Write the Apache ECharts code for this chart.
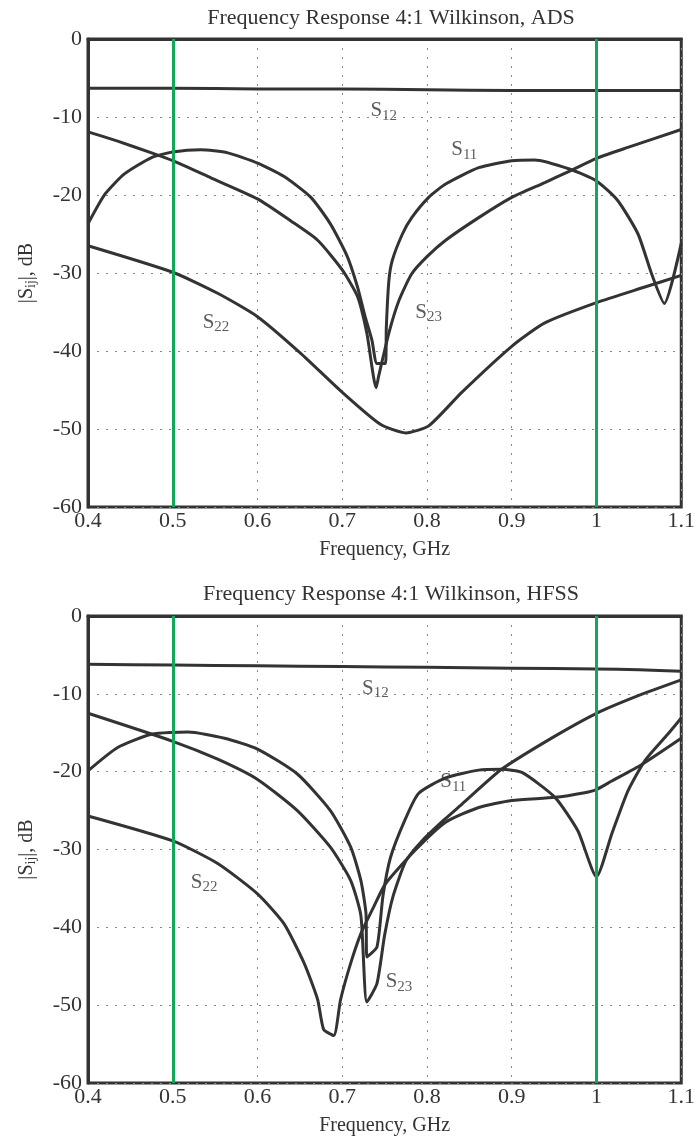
<!DOCTYPE html>
<html>
<head>
<meta charset="utf-8">
<script src="https://cdn.jsdelivr.net/npm/echarts@6/dist/echarts.min.js"></script>
<style>
  html, body { margin: 0; padding: 0; background: #fff; }
  #container { width: 698px; height: 1139px; }
</style>
</head>
<body>
<div id="container"></div>
<script>
// x ticks and y ticks
var freqTicks = [0.4, 1.1, 0.1];
var dbTicks = [-60, 0, 10];
var bandEdges = [0.5, 1.0];   // green markers, GHz

// ADS (top)
var adsS12 = [[0.4,-6.3],[0.5,-6.3],[0.6,-6.4],[0.7,-6.4],[0.8,-6.5],[0.9,-6.6],[1.0,-6.6],[1.1,-6.6]];
var adsS11 = [[0.4,-23.7],[0.42,-19.9],[0.443,-17.3],[0.475,-15.2],[0.5,-14.5],[0.533,-14.2],[0.565,-14.6],[0.6,-15.9],[0.631,-17.6],[0.663,-20.3],[0.686,-23.7],[0.706,-27.9],[0.718,-31.8],[0.727,-35.6],[0.735,-38.6],[0.741,-41.6],[0.751,-41.6],[0.752,-37],[0.755,-31],[0.759,-28.4],[0.771,-25],[0.782,-22.9],[0.802,-20.3],[0.822,-18.6],[0.861,-16.5],[0.9,-15.6],[0.927,-15.5],[0.969,-16.7],[1.0,-18.2],[1.025,-20.7],[1.049,-25],[1.065,-30.1],[1.08,-33.9],[1.1,-26.2]];
var adsS23 = [[0.4,-11.9],[0.435,-13.1],[0.475,-14.6],[0.5,-15.6],[0.545,-17.8],[0.6,-20.5],[0.639,-23.3],[0.671,-25.8],[0.7,-29.6],[0.718,-33],[0.729,-37.7],[0.74,-44.7],[0.743,-43.2],[0.755,-37.7],[0.767,-33.5],[0.782,-30.1],[0.8,-27.9],[0.822,-25.8],[0.861,-22.9],[0.9,-20.3],[0.939,-18.4],[0.969,-16.9],[1.0,-15.3],[1.037,-13.9],[1.1,-11.6]];
var adsS22 = [[0.4,-26.5],[0.5,-29.9],[0.553,-32.6],[0.6,-35.6],[0.651,-40.3],[0.7,-45.3],[0.745,-49.4],[0.775,-50.5],[0.802,-49.6],[0.841,-45.3],[0.9,-39.4],[0.939,-36.4],[1.0,-33.8],[1.057,-31.8],[1.1,-30.3]];

// HFSS (bottom)
var hfssS12 = [[0.4,-6.2],[0.5,-6.3],[0.6,-6.4],[0.7,-6.5],[0.8,-6.6],[0.9,-6.7],[1.0,-6.8],[1.05,-6.9],[1.1,-7.1]];
var hfssS11 = [[0.4,-19.9],[0.435,-16.9],[0.475,-15.2],[0.518,-14.9],[0.561,-15.7],[0.6,-17.1],[0.647,-20.3],[0.686,-25],[0.71,-29.7],[0.722,-34],[0.728,-38.2],[0.729,-43.8],[0.741,-42.5],[0.748,-36],[0.757,-31],[0.774,-26.2],[0.79,-22.8],[0.822,-20.8],[0.861,-19.8],[0.888,-19.7],[0.912,-20.1],[0.951,-23.3],[0.978,-27.6],[1.0,-33.5],[1.018,-28],[1.037,-22.5],[1.057,-18.6],[1.084,-15.2],[1.1,-13.1]];
var hfssS23 = [[0.4,-12.5],[0.5,-16.1],[0.553,-18.4],[0.6,-21],[0.647,-25],[0.686,-29.7],[0.71,-34],[0.722,-38.5],[0.729,-49.6],[0.741,-47.2],[0.75,-41],[0.76,-36],[0.775,-31.5],[0.794,-28.9],[0.82,-26.2],[0.841,-24.2],[0.888,-19.7],[0.95,-15.5],[1.0,-12.5],[1.05,-10.2],[1.1,-8.2]];
var hfssS22 = [[0.4,-25.7],[0.5,-28.9],[0.553,-31.8],[0.6,-35.7],[0.631,-39.5],[0.655,-44.6],[0.671,-49.3],[0.678,-53.1],[0.69,-53.9],[0.698,-49.3],[0.71,-44.6],[0.722,-40.8],[0.737,-37.4],[0.751,-34.4],[0.786,-30.1],[0.822,-26.5],[0.861,-24.6],[0.9,-23.7],[0.951,-23.3],[0.986,-22.7],[1.0,-22.3],[1.018,-21.2],[1.053,-19.1],[1.1,-15.7]];

// curve labels: [x, y, subscript]
var adsLabels = [[0.749,-9.2,'12'],[0.844,-14.2,'11'],[0.551,-36.3,'22'],[0.802,-35,'23']];
var hfssLabels = [[0.739,-9.3,'12'],[0.831,-21.3,'11'],[0.537,-34.2,'22'],[0.767,-47,'23']];

var titles = ['Frequency Response 4:1 Wilkinson, ADS', 'Frequency Response 4:1 Wilkinson, HFSS'];

var FONT = 'Liberation Serif';
var INK = '#333';

var dom = document.getElementById('container');
var myChart = echarts.init(dom);

function xAxisFor(i) {
    return {
        gridIndex: i, type: 'value',
        min: freqTicks[0], max: freqTicks[1], interval: freqTicks[2],
        name: 'Frequency, GHz', nameLocation: 'middle', nameGap: 33,
        nameTextStyle: { fontFamily: FONT, fontSize: 20, color: INK },
        axisLine: { show: true, lineStyle: { color: INK, width: 3 } },
        axisTick: { show: false },
        axisLabel: {
            fontFamily: FONT, fontSize: 22, color: INK, margin: 3,
            formatter: function (v) { return String(+v.toFixed(1)); }
        },
        splitLine: { show: true, lineStyle: { color: '#888', type: [2, 7], width: 1 } }
    };
}
function yAxisFor(i) {
    return {
        gridIndex: i, type: 'value',
        min: dbTicks[0], max: dbTicks[1], interval: dbTicks[2],
        name: '|S{s|ij}|, dB', nameLocation: 'middle', nameGap: 50,
        nameTextStyle: {
            fontFamily: FONT, fontSize: 20, color: INK,
            rich: { s: { fontFamily: FONT, fontSize: 14, color: INK, verticalAlign: 'bottom', padding: [9, 0, 0, 0] } }
        },
        axisLine: { show: true, lineStyle: { color: INK, width: 3 } },
        axisTick: { show: false },
        axisLabel: { fontFamily: FONT, fontSize: 22, color: INK, margin: 6 },
        splitLine: { show: true, lineStyle: { color: '#888', type: [2, 7], width: 1 } }
    };
}

function curve(i, data) {
    return {
        type: 'line', xAxisIndex: i, yAxisIndex: i, data: data,
        showSymbol: false, smooth: 0.2, smoothMonotone: 'none',
        lineStyle: { color: INK, width: 3 }, z: 3, silent: true
    };
}
function markers(i) {
    return {
        type: 'line', xAxisIndex: i, yAxisIndex: i, data: [],
        markLine: {
            silent: true, symbol: 'none', label: { show: false },
            lineStyle: { color: '#12a85a', width: 3, type: 'solid' },
            data: bandEdges.map(function (f) { return { xAxis: f }; })
        },
        z: 2
    };
}
function labels(i, list) {
    return {
        type: 'scatter', xAxisIndex: i, yAxisIndex: i, symbolSize: 0, silent: true,
        data: list.map(function (l) { return { value: [l[0], l[1]], sub: l[2] }; }),
        label: {
            show: true, position: 'inside',
            formatter: function (p) { return 'S{s|' + p.data.sub + '}'; },
            fontFamily: FONT, fontSize: 21, color: INK,
            rich: { s: { fontFamily: FONT, fontSize: 15, color: INK, verticalAlign: 'bottom', padding: [10, 0, 0, 0] } }
        },
        z: 4
    };
}

var gridBox = { show: true, left: 88, width: 596, borderColor: INK, borderWidth: 3, backgroundColor: '#fff' };

option = {
    animation: false,
    backgroundColor: '#fff',
    title: [
        { text: titles[0], left: 386, top: 2, textAlign: 'center',
          textStyle: { fontFamily: FONT, fontSize: 22, fontWeight: 'normal', color: INK } },
        { text: titles[1], left: 386, top: 578, textAlign: 'center',
          textStyle: { fontFamily: FONT, fontSize: 22, fontWeight: 'normal', color: INK } }
    ],
    grid: [
        Object.assign({}, gridBox, { top: 39, height: 468 }),
        Object.assign({}, gridBox, { top: 616, height: 467 })
    ],
    xAxis: [xAxisFor(0), xAxisFor(1)],
    yAxis: [yAxisFor(0), yAxisFor(1)],
    series: [
        markers(0),
        curve(0, adsS12), curve(0, adsS11), curve(0, adsS23), curve(0, adsS22),
        labels(0, adsLabels),
        markers(1),
        curve(1, hfssS12), curve(1, hfssS11), curve(1, hfssS23), curve(1, hfssS22),
        labels(1, hfssLabels)
    ]
};
if (option && typeof option === 'object') {
    myChart.setOption(option, true);
}
</script>
</body>
</html>
